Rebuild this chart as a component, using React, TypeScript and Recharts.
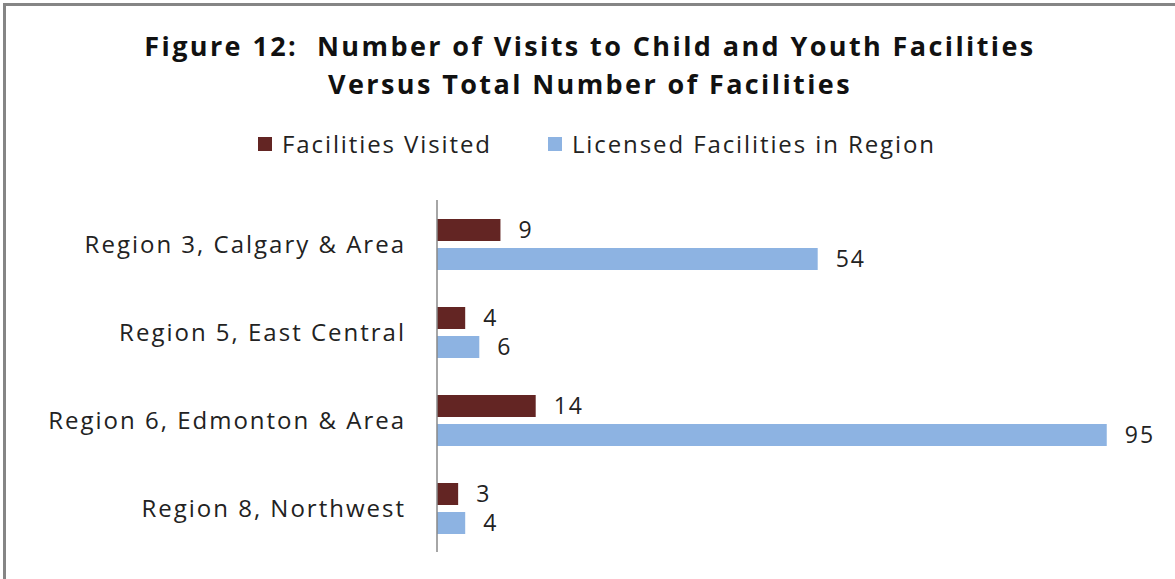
import React from 'react';
import { BarChart, Bar, XAxis, YAxis, LabelList } from 'recharts';

const regions = [
  'Region 3, Calgary & Area',
  'Region 5, East Central',
  'Region 6, Edmonton & Area',
  'Region 8, Northwest',
];
const visited = [9, 4, 14, 3];
const licensed = [54, 6, 95, 4];

const data = regions.map((region, i) => ({
  region,
  visited: visited[i],
  licensed: licensed[i],
}));

const FONT = '"Open Sans", "Liberation Sans", sans-serif';
const MAROON = '#632523';
const BLUE = '#8DB3E2';

const legendItems = [
  { label: 'Facilities Visited', color: MAROON },
  { label: 'Licensed Facilities in Region', color: BLUE },
];

function TopLegend() {
  return (
    <div style={{ position: 'absolute', left: 258, top: 127, display: 'flex', gap: 56, fontFamily: FONT, fontSize: 24, letterSpacing: 1.9, color: '#222', whiteSpace: 'nowrap' }}>
      {legendItems.map((it) => (
        <div key={it.label} style={{ display: 'flex', alignItems: 'center' }}>
          <span style={{ width: 14, height: 14, background: it.color, marginRight: 10, display: 'inline-block' }} />
          <span>{it.label}</span>
        </div>
      ))}
    </div>
  );
}

const labelStyle = { fontFamily: FONT, fontSize: 23, letterSpacing: 2, fill: '#222' };

export default function App() {
  return (
    <div style={{ position: 'absolute', left: 0, top: 0, width: 1175, height: 579, background: '#fff', overflow: 'hidden' }}>
      {/* frame: only top and left edges show */}
      <div style={{ position: 'absolute', left: 3, top: 3, width: 1180, height: 590, borderTop: '3px solid #858585', borderLeft: '3px solid #858585' }} />
      <div style={{ position: 'absolute', left: 0, top: 27, width: 1180, textAlign: 'center', fontFamily: FONT, fontWeight: 700, fontSize: 27, letterSpacing: 2.4, lineHeight: '38px', color: '#111', whiteSpace: 'nowrap' }}>
        Figure 12:&nbsp; Number of Visits to Child and Youth Facilities
        <br />
        Versus Total Number of Facilities
      </div>
      <TopLegend />
      <BarChart
        width={1175}
        height={579}
        data={data}
        layout="vertical"
        margin={{ top: 200, right: 33, bottom: 27, left: 0 }}
        barSize={22}
        barGap={7}
        style={{ position: 'absolute', left: 0, top: 0 }}
      >
        <XAxis type="number" domain={[0, 100]} hide />
        <YAxis
          type="category"
          dataKey="region"
          width={437}
          tickLine={false}
          tickSize={0}
          tickMargin={31}
          axisLine={{ stroke: '#888', strokeWidth: 1.5 }}
          tick={{ fontFamily: FONT, fontSize: 24, letterSpacing: 2, fill: '#222' }}
        />
        <Bar dataKey="visited" fill={MAROON} isAnimationActive={false}>
          <LabelList dataKey="visited" position="right" offset={18} style={labelStyle} />
        </Bar>
        <Bar dataKey="licensed" fill={BLUE} isAnimationActive={false}>
          <LabelList dataKey="licensed" position="right" offset={18} style={labelStyle} />
        </Bar>
      </BarChart>
    </div>
  );
}
